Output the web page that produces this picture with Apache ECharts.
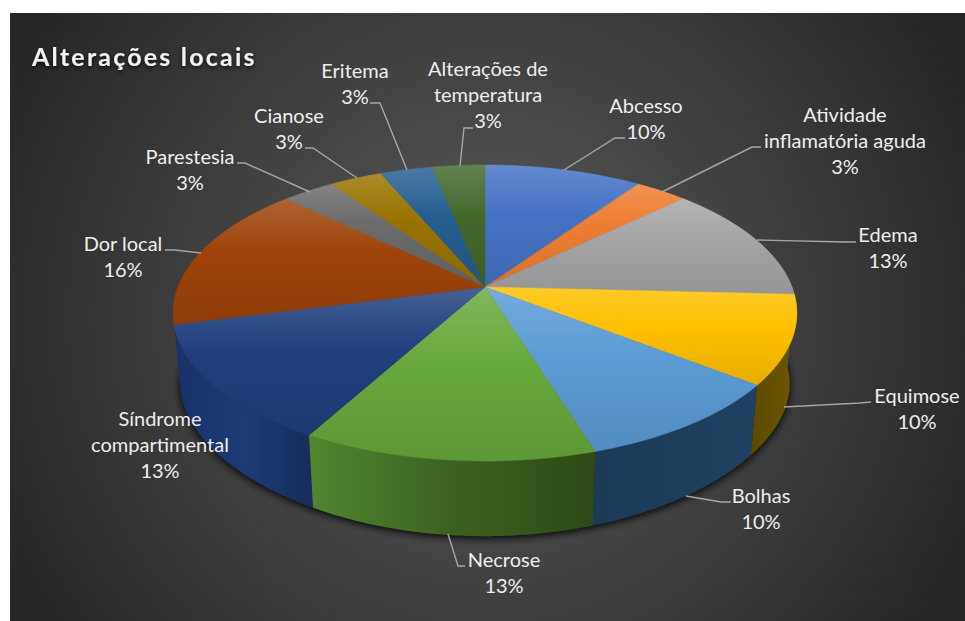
<!DOCTYPE html>
<html lang="pt">
<head>
<meta charset="utf-8">
<title>Alterações locais</title>
<style>
  html, body { margin: 0; padding: 0; background: #ffffff; }
  #chart { width: 965px; height: 621px; }
  /* the heading is the only bold text in the chart */
  #chart svg text[style*="bold"] { letter-spacing: 2.2px; }
</style>
<script src="https://cdn.jsdelivr.net/npm/echarts@6/dist/echarts.min.js"></script>
</head>
<body>
<div id="chart"></div>
<script>
// Reported cases per local alteration; percentages are derived from these counts.
const categories = [
  'Abcesso', 'Atividade\ninflamatória aguda', 'Edema', 'Equimose', 'Bolhas', 'Necrose',
  'Síndrome\ncompartimental', 'Dor local', 'Parestesia', 'Cianose', 'Eritema',
  'Alterações de\ntemperatura'
];
const cases = [3, 1, 4, 3, 3, 4, 4, 5, 1, 1, 1, 1];
const chartTitle = 'Alterações locais';

// Slice fill colours, and the left / middle / right tones of each outer wall.
const sliceColors = [
  '#4472c4', '#ed7d31', '#a5a5a5', '#ffc000', '#5b9bd5', '#67a93c',
  '#1f3f7e', '#9e440a', '#6a6a6a', '#997300', '#255e91', '#43682b'
];
const wallTones = [
  ['#2a4679', '#2a4679', '#2a4679'], ['#8f4c1e', '#8f4c1e', '#8f4c1e'],
  ['#666666', '#666666', '#666666'], ['#5c4900', '#665100', '#6c5600'],
  ['#1a3a58', '#1d3d5b', '#1f4060'], ['#52852f', '#3c6220', '#2d4916'],
  ['#17316a', '#1e3b77', '#162c5c'], ['#5c2a06', '#5c2a06', '#5c2a06'],
  ['#3e3e3e', '#3e3e3e', '#3e3e3e'], ['#5d4600', '#5d4600', '#5d4600'],
  ['#163a59', '#163a59', '#163a59'], ['#29401a', '#29401a', '#29401a']
];

// Label centres, and the leader line that joins each label to its slice.
const labelCentres = [
  [646, 118], [845, 140], [888, 247], [917, 408], [761, 508], [504, 572],
  [160, 444], [123, 256], [190, 169], [289, 128], [355, 83], [488, 94]
];
const leaderLines = [
  [[625, 138], [615, 138], [564, 170]],
  [[761, 147], [752, 147], [662, 192]],
  [[856, 242], [846, 242], [757, 240]],
  [[871, 402], [860, 403], [784, 407]],
  [[731, 502], [721, 502], [686, 496]],
  [[465, 566], [458, 566], [448, 534]],
  null,
  [[165, 250], [175, 250], [201, 253]],
  [[237, 163], [245, 163], [310, 192]],
  [[305, 148], [313, 148], [357, 178]],
  [[370, 103], [380, 103], [407, 170]],
  [[473, 128], [464, 128], [460, 166]]
];

const total = cases.reduce((sum, v) => sum + v, 0);
const cumulative = cases.reduce((acc, v) => { acc.push(acc[acc.length - 1] + v); return acc; }, [0]);
const angleOf = (count) => echarts.number.linearMap(count, [0, total], [0, Math.PI * 2]);

// Perspective view of the disc: the top rim and the smaller, lower bottom rim.
const topRim = { cx: 485, cy: 287, rx: 307, ry: 143.4, px: 0.1757, py: 0.1757 };
const bottomRim = { cx: 485, cy: 359.4, rx: 300, ry: 132.6, px: 0.1757, py: 0.25 };

function project(rim, angle) {
  const across = Math.sin(angle), away = Math.cos(angle);
  return [
    rim.cx + rim.rx * across / (1 + rim.px * away),
    rim.cy - rim.ry * away / (1 + rim.py * away)
  ];
}

function arc(rim, from, to) {
  const steps = Math.max(2, Math.ceil((to - from) / (Math.PI / 180)));
  const points = [];
  for (let i = 0; i <= steps; i++) {
    points.push(project(rim, from + (to - from) * i / steps));
  }
  return points;
}

function mix(hex, target, amount) {
  const n = parseInt(hex.slice(1), 16);
  const channel = (c) => Math.round(c + (target - c) * amount);
  return `rgb(${channel(n >> 16)},${channel((n >> 8) & 255)},${channel(n & 255)})`;
}

const vertical = (stops) => ({
  type: 'linear', x: 0, y: 0, x2: 0, y2: 1,
  colorStops: stops.map(([offset, color]) => ({ offset, color }))
});
const horizontal = (tones) => ({
  type: 'linear', x: 0, y: 0, x2: 1, y2: 0,
  colorStops: tones.map((color, i) => ({ offset: i / (tones.length - 1), color }))
});

const itemData = cases.map((v, i) => [v, i]);

const option = {
  animation: false,
  backgroundColor: '#ffffff',
  graphic: {
    elements: [{
      type: 'rect',
      z: -10,
      silent: true,
      shape: { x: 10, y: 13, width: 955, height: 608 },
      style: {
        fill: {
          type: 'radial', x: 485, y: 317, r: 540, global: true,
          colorStops: [{ offset: 0, color: '#5c5c5c' }, { offset: 1, color: '#262626' }]
        }
      }
    }]
  },
  title: {
    text: chartTitle,
    left: 32,
    top: 43,
    padding: 0,
    textStyle: {
      fontFamily: 'Lato',
      fontWeight: 'bold',
      fontSize: 25,
      color: '#f2f2f2',
      textShadowColor: 'rgba(0,0,0,0.75)',
      textShadowBlur: 4,
      textShadowOffsetY: 2
    }
  },
  series: [
    // Soft contact shadow beneath the disc.
    {
      type: 'custom', coordinateSystem: 'none', silent: true, z: 2,
      data: [[total]],
      renderItem: (params, api) => ({
        type: 'polygon',
        shape: { points: arc(bottomRim, 0, angleOf(api.value(0))) },
        style: {
          fill: '#1a1a1a',
          shadowColor: 'rgba(0,0,0,0.95)',
          shadowBlur: 9,
          shadowOffsetX: 0,
          shadowOffsetY: 2
        }
      })
    },
    // Outer walls, between the two rims; the nearer a wall faces, the later it is painted.
    {
      type: 'custom', coordinateSystem: 'none', silent: true, z: 3,
      data: itemData,
      renderItem: (params, api) => {
        const i = api.value(1);
        const from = angleOf(cumulative[i]);
        const to = angleOf(cumulative[i] + api.value(0));
        return {
          type: 'polygon',
          z2: Math.round(-Math.cos((from + to) / 2) * 100),
          shape: { points: arc(topRim, from, to).concat(arc(bottomRim, from, to).reverse()) },
          style: { fill: horizontal(wallTones[i]) }
        };
      }
    },
    // Top faces of the slices.
    {
      type: 'custom', coordinateSystem: 'none', silent: true, z: 4,
      data: itemData,
      renderItem: (params, api) => {
        const i = api.value(1);
        const from = angleOf(cumulative[i]);
        const to = angleOf(cumulative[i] + api.value(0));
        const base = sliceColors[i];
        const fill = vertical([
          [0, mix(base, 255, 0.17)],
          [0.42, base],
          [1, mix(base, 0, 0.1)]
        ]);
        return {
          type: 'polygon',
          shape: { points: [[topRim.cx, topRim.cy]].concat(arc(topRim, from, to)) },
          style: { fill, stroke: fill, lineWidth: 0.6 }
        };
      }
    },
    // Leader lines and the category / percentage labels.
    {
      type: 'custom', coordinateSystem: 'none', silent: true, z: 5,
      data: itemData,
      renderItem: (params, api) => {
        const i = api.value(1);
        const share = Math.round(api.value(0) / total * 100);
        const children = [];
        if (leaderLines[i]) {
          children.push({
            type: 'polyline',
            shape: { points: leaderLines[i] },
            style: { fill: 'none', stroke: '#a6a6a6', lineWidth: 1.4 }
          });
        }
        children.push({
          type: 'text',
          x: labelCentres[i][0],
          y: labelCentres[i][1],
          style: {
            text: `${categories[i]}\n${share}%`,
            font: '20px Lato',
            fill: '#eeeeee',
            align: 'center',
            verticalAlign: 'middle',
            lineHeight: 26
          }
        });
        return { type: 'group', children };
      }
    }
  ]
};

const chart = echarts.init(document.getElementById('chart'), null, { renderer: 'svg' });
chart.setOption(option);
</script>
</body>
</html>
